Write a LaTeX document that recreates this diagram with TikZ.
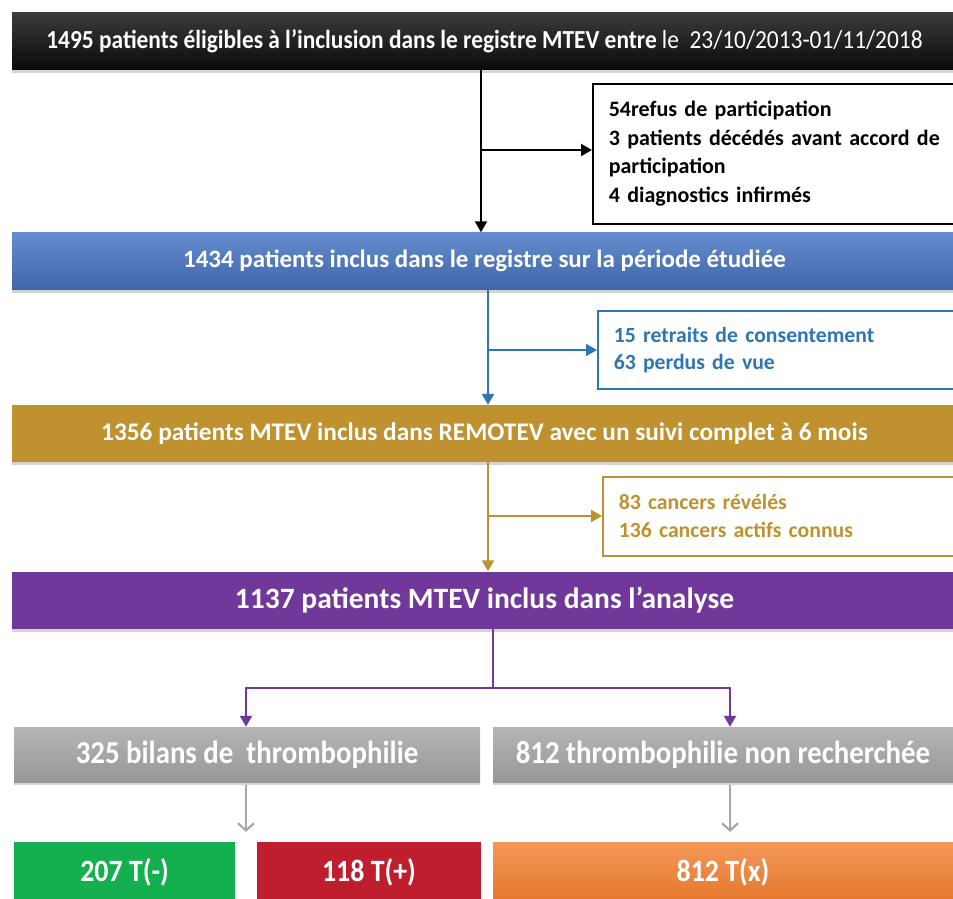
\documentclass[tikz,border=0pt]{standalone}
\usepackage{fontspec}
\setmainfont{Carlito}
\newfontfamily\condfont[FakeStretch=0.9]{Carlito}
\usetikzlibrary{positioning,arrows.meta,shadows}

\definecolor{barblack}{HTML}{0A0A0A}
\definecolor{barblue}{HTML}{4A78C6}
\definecolor{lineblue}{HTML}{2E75B6}
\definecolor{bargold}{HTML}{BF912F}
\definecolor{barpurple}{HTML}{70389A}
\definecolor{bargray}{HTML}{A8A8A8}
\definecolor{bargreen}{HTML}{14AF4E}
\definecolor{barred}{HTML}{BE1E2D}
\definecolor{barorange}{HTML}{F07E2E}

\begin{document}
\begin{tikzpicture}[x=1pt,y=-1pt,
  bar/.style={rectangle, inner sep=0pt, text=white, minimum height=57pt,
    font=\bfseries\fontsize{25}{28}\selectfont,
    drop shadow={shadow xshift=0pt, shadow yshift=-3pt, opacity=.35}},
  sidebox/.style={rectangle, draw=#1, text=#1, line width=1.6pt, anchor=north west,
    align=left, text width=400pt, inner xsep=16pt, inner ysep=0pt},
  flow/.style={draw=#1, line width=2.2pt, -{Triangle[length=11pt,width=12pt]}},
  graybox/.style={bar, top color=bargray!85!white, bottom color=bargray!90!black,
    font=\condfont\bfseries\fontsize{32}{34}\selectfont},
  resbox/.style={rectangle, inner sep=0pt, text=white, minimum height=60pt,
    font=\condfont\bfseries\fontsize{31}{34}\selectfont}]
\useasboundingbox (0,0) rectangle (953,898);

% bandeaux principaux
\node[bar, minimum width=945pt, top color=barblack!80!white, bottom color=barblack,
  font=\condfont\bfseries\fontsize{26}{28}\selectfont] (eligibles) at (484.5,41)
  {1495 patients éligibles à l’inclusion dans le registre MTEV entre \mdseries le\ \ 23/10/2013-01/11/2018};
\node[bar, minimum width=945pt, top color=barblue!85!white, bottom color=barblue!85!black] (inclus) at (484.5,261)
  {1434 patients inclus dans le registre sur la période étudiée};
\node[bar, minimum width=945pt, fill=bargold, font=\bfseries\fontsize{25.3}{28}\selectfont] (remotev) at (484.5,433.5)
  {1356 patients MTEV inclus dans REMOTEV avec un suivi complet à 6 mois};
\node[bar, minimum width=945pt, fill=barpurple, font=\bfseries\fontsize{29.5}{32}\selectfont] (analyse) at (484.5,600)
  {1137 patients MTEV inclus dans l’analyse};

% exclusions
\node[sidebox=black, minimum height=140pt, font=\bfseries\fontsize{22}{28.5}\selectfont] (exclu1) at (592,83)
  {54refus de participation\\3 patients décédés avant accord de\\participation\\4 diagnostics infirmés};
\node[sidebox=lineblue, minimum height=78pt, font=\bfseries\fontsize{21.7}{27}\selectfont] (exclu2) at (597,310)
  {15 retraits de consentement\\63 perdus de vue};
\node[sidebox=bargold, minimum height=79pt, font=\bfseries\fontsize{21.7}{28}\selectfont] (exclu3) at (602,476)
  {83 cancers révélés\\136 cancers actifs connus};

% sous-groupes
\node[graybox, minimum width=466pt, minimum height=55pt] (bilan) at (247,754.5) {325 bilans de\ \ thrombophilie};
\node[graybox, minimum width=460pt, minimum height=55pt] (nonrech) at (723,754.5) {812 thrombophilie non recherchée};
\node[resbox, minimum width=221pt, fill=bargreen] (tneg) at (124.5,872) {207 T(-)};
\node[resbox, minimum width=224pt, fill=barred] (tpos) at (369,872) {118 T(+)};
\node[resbox, minimum width=460pt, top color=barorange!80!white, bottom color=barorange!95!black] (tx) at (723,872) {812 T(x)};

% connecteurs
\coordinate (b1) at (481,150);
\coordinate (b2) at (488,350);
\coordinate (b3) at (488,516);
\coordinate (split) at (493,688);
\draw[flow=black] (eligibles.south -| b1) -- (inclus.north -| b1);
\draw[flow=black] (b1) -- (exclu1.west |- b1);
\draw[flow=lineblue] (inclus.south -| b2) -- (remotev.north -| b2);
\draw[flow=lineblue] (b2) -- (exclu2.west |- b2);
\draw[flow=bargold] (remotev.south -| b3) -- (analyse.north -| b3);
\draw[flow=bargold] (b3) -- (exclu3.west |- b3);
\draw[barpurple, line width=2.2pt] (analyse.south -| split) -- (split);
\draw[flow=barpurple] (split) -| ([xshift=-1pt]bilan.north);
\draw[flow=barpurple] (split) -| ([xshift=7pt]nonrech.north);
\draw[bargray, line width=2.2pt, -{Straight Barb[length=7pt,width=16pt]}, shorten >=10pt]
  ([xshift=-1pt,yshift=-3pt]bilan.south) -- ([xshift=-1pt]bilan.south |- tneg.north);
\draw[bargray, line width=2.2pt, -{Straight Barb[length=7pt,width=16pt]}, shorten >=10pt]
  ([xshift=7pt,yshift=-3pt]nonrech.south) -- ([xshift=7pt]nonrech.south |- tx.north);
\end{tikzpicture}
\end{document}
